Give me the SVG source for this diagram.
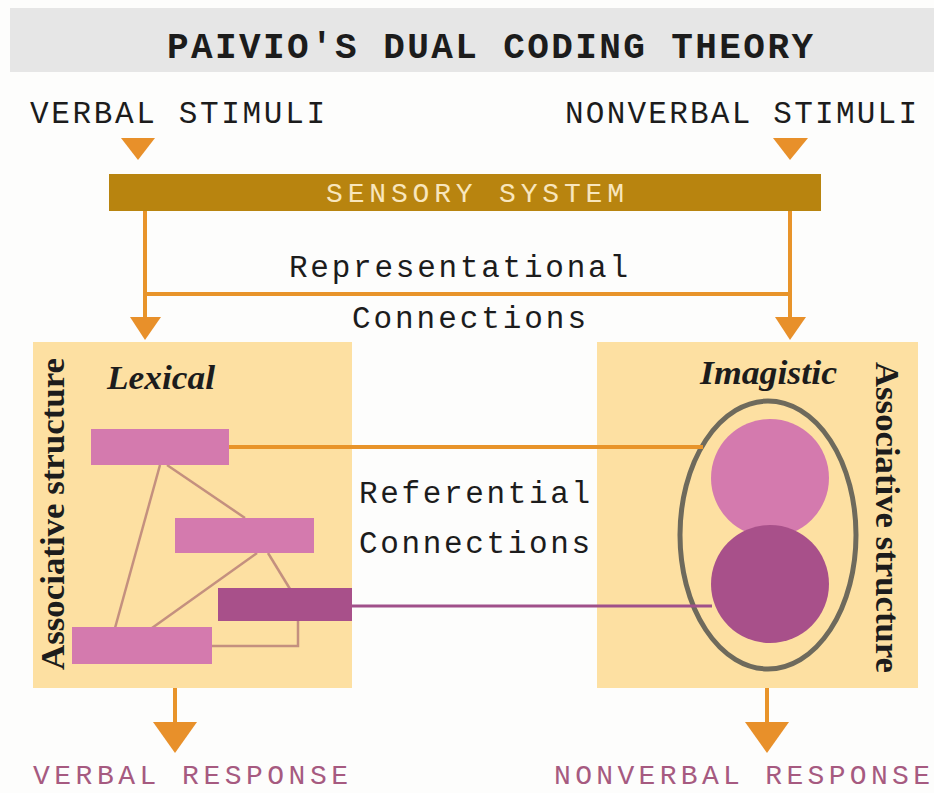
<svg xmlns="http://www.w3.org/2000/svg" width="934" height="793" viewBox="0 0 934 793">
<style>
.mono{font-family:"Liberation Mono","DejaVu Sans Mono",monospace;}
.serif{font-family:"Liberation Serif","DejaVu Serif",serif;font-weight:bold;}
.dark{fill:#1c1c1c;}
.resp{fill:#a65a80;}
.orange{stroke:#e8942a;stroke-width:4;fill:none;}
.head{fill:#e8902a;}
.assoc{stroke:#c4907f;stroke-width:2.5;fill:none;}
.panel{fill:#fde0a2;}
.pink{fill:#d47aae;}
.plum{fill:#a8508a;}
</style>
<rect x="0" y="0" width="934" height="793" fill="#fdfdfc"/>
<g id="title">
<rect x="10" y="8" width="924" height="64" fill="#e6e6e6"/>
<text class="mono dark" x="167" y="58" font-size="36" font-weight="bold" textLength="646" lengthAdjust="spacing">PAIVIO'S DUAL CODING THEORY</text>
</g>
<g id="verbal-stimuli">
<text class="mono dark" x="30" y="123" font-size="31" textLength="295" lengthAdjust="spacing">VERBAL STIMULI</text>
</g>
<g id="nonverbal-stimuli">
<text class="mono dark" x="565" y="123" font-size="31" textLength="352" lengthAdjust="spacing">NONVERBAL STIMULI</text>
</g>
<g id="sensory-system">
<rect x="109" y="174" width="712" height="37" fill="#b8840f"/>
<text class="mono" x="326" y="202" font-size="28" fill="#f8e6bd" textLength="298" lengthAdjust="spacing">SENSORY SYSTEM</text>
</g>
<g id="lexical">
<rect class="panel" x="33" y="342" width="319" height="346"/>
<text class="serif dark" x="107" y="389" font-size="33" font-style="italic" textLength="108" lengthAdjust="spacingAndGlyphs">Lexical</text>
<text class="serif dark" transform="translate(64,670) rotate(-90)" font-size="33" textLength="312" lengthAdjust="spacingAndGlyphs">Associative structure</text>
<polyline class="assoc" points="160,465 115,628"/>
<polyline class="assoc" points="167,465 245,518"/>
<polyline class="assoc" points="257,553 152,628"/>
<polyline class="assoc" points="268,553 290,589"/>
<polyline class="assoc" points="298,621 298,646 211,646"/>
<rect class="pink" x="91" y="429" width="138" height="36"/>
<rect class="pink" x="175" y="518" width="139" height="35"/>
<rect class="plum" x="218" y="588" width="134" height="33"/>
<rect class="pink" x="72" y="627" width="140" height="37"/>
</g>
<g id="imagistic">
<rect class="panel" x="597" y="342" width="321" height="346"/>
<text class="serif dark" x="700" y="384" font-size="33" font-style="italic" textLength="137" lengthAdjust="spacingAndGlyphs">Imagistic</text>
<text class="serif dark" transform="translate(876,362) rotate(90)" font-size="33" textLength="311" lengthAdjust="spacingAndGlyphs">Associative structure</text>
<circle class="pink" cx="770" cy="478" r="59"/>
<circle class="plum" cx="770" cy="584" r="59"/>
<ellipse cx="768" cy="535" rx="88" ry="134" fill="none" stroke="#6e6a5c" stroke-width="5"/>
</g>
<g id="representational-label">
<text class="mono dark" x="289" y="277" font-size="31" textLength="339" lengthAdjust="spacing">Representational</text>
<text class="mono dark" x="352" y="328" font-size="31" textLength="234" lengthAdjust="spacing">Connections</text>
</g>
<g id="referential-label">
<text class="mono dark" x="359" y="503" font-size="31" textLength="231" lengthAdjust="spacing">Referential</text>
<text class="mono dark" x="359" y="553" font-size="31" textLength="231" lengthAdjust="spacing">Connections</text>
</g>
<g id="verbal-response">
<text class="mono resp" x="33" y="784" font-size="28" textLength="315" lengthAdjust="spacing">VERBAL RESPONSE</text>
</g>
<g id="nonverbal-response">
<text class="mono resp" x="554" y="784" font-size="28" textLength="376" lengthAdjust="spacing">NONVERBAL RESPONSE</text>
</g>
<g id="connectors">
<polygon class="head" points="121,138 155,138 138,160"/>
<polygon class="head" points="773,138 808,138 790,160"/>
<line class="orange" x1="145" y1="211" x2="145" y2="322"/>
<line class="orange" x1="790" y1="211" x2="790" y2="322"/>
<line class="orange" x1="145" y1="294" x2="790" y2="294"/>
<polygon class="head" points="130,317 161,317 145,340"/>
<polygon class="head" points="775,317 806,317 790,340"/>
<line class="orange" x1="229" y1="447" x2="703" y2="447" stroke-width="3"/>
<line x1="352" y1="606" x2="712" y2="606" stroke="#a0508a" stroke-width="3"/>
<line class="orange" x1="175" y1="688" x2="175" y2="726"/>
<polygon class="head" points="153,722 197,722 175,753"/>
<line class="orange" x1="767" y1="688" x2="767" y2="726"/>
<polygon class="head" points="745,722 789,722 767,753"/>
</g>
</svg>
